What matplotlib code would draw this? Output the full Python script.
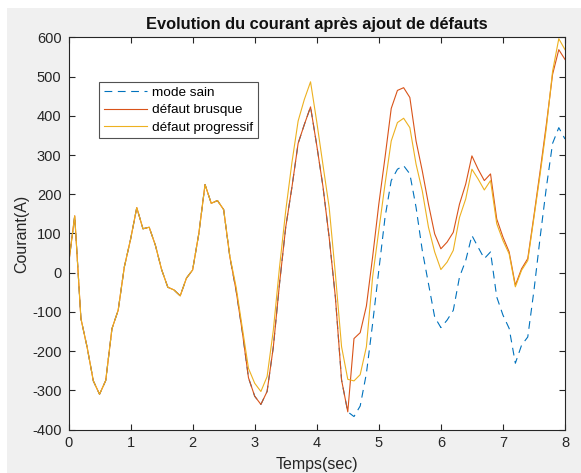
import numpy as np
import matplotlib.pyplot as plt
from matplotlib.patches import Rectangle

plt.rcParams['font.family'] = ['Liberation Sans', 'DejaVu Sans']
plt.rcParams['axes.unicode_minus'] = False

# time axis, sampled every 0.1 s
t = np.linspace(0, 8, 81)

# t = 0.0 .. 2.2, all three curves identical
common = [20, 145, -117, -190, -276, -310, -275, -143, -96, 15, 85, 166,
          112, 116, 70, 8, -37, -44, -59, -14, 7, 100, 225]

# t = 2.3 .. 8.0
brusque_rest = [177, 184, 161, 40, -45, -150, -268, -315, -336, -303, -190,
                -28, 116, 218, 330, 378, 423, 325, 220, 90, -62, -274, -355,
                -168, -153, -85, 40, 175, 294, 419, 465, 472, 447, 336, 260,
                175, 99, 61, 78, 103, 175, 226, 298, 264, 235, 252, 137, 91,
                53, -32, 10, 36, 146, 260, 379, 506, 569, 544]
progressif_rest = [177, 184, 161, 42, -36, -140, -244, -282, -303, -265, -147,
                   14, 158, 281, 387, 442, 487, 385, 275, 167, -3, -189, -272,
                   -276, -260, -189, -11, 108, 226, 336, 383, 394, 370, 277,
                   209, 116, 53, 8, 27, 57, 141, 188, 264, 239, 211, 235, 125,
                   82, 48, -36, 6, 31, 141, 252, 370, 514, 597, 569]
# t = 4.6 .. 8.0 (before that the healthy curve sits under the red one)
sain_rest = [-367, -340, -257, -130, 6, 141, 235, 264, 273, 252, 167, 57,
             -28, -113, -140, -121, -96, -11, 31, 95, 65, 36, 53, -62, -108,
             -142, -231, -185, -164, -45, 91, 218, 330, 370, 341]

brusque = np.array(common + brusque_rest)
progressif = np.array(common + progressif_rest)
sain = np.concatenate([brusque[:46], sain_rest])

fig = plt.figure(figsize=(5.81, 4.73), dpi=100, facecolor='white')
fig.add_artist(Rectangle((7 / 581, 0), 1, 465 / 473, transform=fig.transFigure,
                         facecolor='#f0f0f0', edgecolor='none', zorder=-10))
ax = fig.add_axes([68.5 / 581, 43.5 / 473, 496.5 / 581, 392 / 473])

ax.plot(t, sain, '--', color='#0072BD', lw=0.8, dashes=(7, 5), label='mode sain')
ax.plot(t, brusque, color='#D95319', lw=0.8, label='défaut brusque')
ax.plot(t, progressif, color='#EDB120', lw=0.8, label='défaut progressif')

ax.set_xlim(0, 8)
ax.set_ylim(-400, 600)
ax.set_xticks(range(0, 9))
ax.set_yticks(range(-400, 601, 100))
ax.tick_params(direction='in', length=4, width=0.8, top=True, right=True,
               labelsize=10.5, colors='#262626', pad=5)
for s in ax.spines.values():
    s.set_color('#262626')
    s.set_linewidth(0.8)

ax.set_title('Evolution du courant après ajout de défauts', fontsize=11.8,
             fontweight='bold', color='#111111', pad=6)
ax.set_xlabel('Temps(sec)', fontsize=11.5, color='#262626', labelpad=5)
ax.set_ylabel('Courant(A)', fontsize=11.5, color='#262626', labelpad=2)

leg = ax.legend(loc='upper left', bbox_to_anchor=(0.061, 0.887), fontsize=9.7,
                frameon=True, fancybox=False, edgecolor='#262626',
                borderaxespad=0, handlelength=3.2, handletextpad=0.4,
                labelspacing=0.36, borderpad=0.35)
leg.get_frame().set_linewidth(0.8)

fig.savefig('out.png', dpi=100, facecolor=fig.get_facecolor())
